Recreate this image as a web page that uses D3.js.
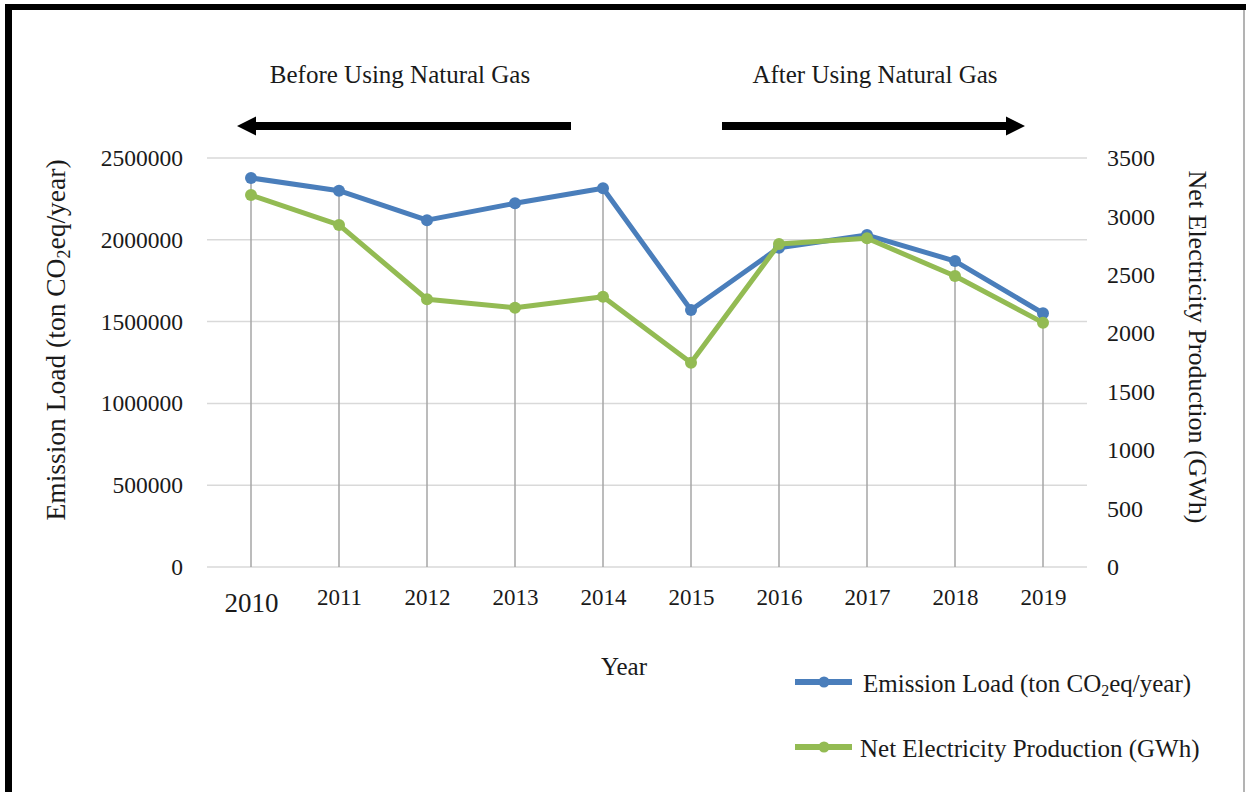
<!DOCTYPE html>
<html>
<head>
<meta charset="utf-8">
<script src="https://cdn.jsdelivr.net/npm/d3@7"></script>
<style>
  html, body { margin: 0; padding: 0; background: #fff; }
  svg { display: block; }
  text { font-family: "Liberation Serif", "Times New Roman", serif; fill: #1a1a1a; }
</style>
</head>
<body>
<svg id="chart" width="1246" height="792"></svg>
<script>
// ---- data ----
const years = ["2010","2011","2012","2013","2014","2015","2016","2017","2018","2019"];
const emissionLoad = [2378000, 2300000, 2120000, 2223000, 2315000, 1571000, 1952000, 2029000, 1870000, 1551000];
const netElectricity = [3183, 2927, 2291, 2219, 2313, 1748, 2764, 2813, 2490, 2091];
const leftTicks = [0, 500000, 1000000, 1500000, 2000000, 2500000];
const rightTicks = [0, 500, 1000, 1500, 2000, 2500, 3000, 3500];

const BLUE = "#4a7ebb";
const GREEN = "#93bb53";

const svg = d3.select("#chart");

// frame
svg.append("rect").attr("x", 5).attr("y", 4).attr("width", 7).attr("height", 788).attr("fill", "#000");
svg.append("rect").attr("x", 5).attr("y", 4).attr("width", 1241).attr("height", 6).attr("fill", "#000");
svg.append("line").attr("x1", 1244).attr("x2", 1244).attr("y1", 10).attr("y2", 792)
  .attr("stroke", "#9a9a9a").attr("stroke-width", 1.5);

const plot = { left: 207, right: 1087, top: 158, bottom: 567 };

const x = d3.scalePoint().domain(years).range([plot.left, plot.right]).padding(0.5);
const yL = d3.scaleLinear().domain([0, 2500000]).range([plot.bottom, plot.top]);
const yR = d3.scaleLinear().domain([0, 3500]).range([plot.bottom, plot.top]);

// gridlines
svg.append("g").selectAll("line").data(leftTicks).join("line")
  .attr("x1", plot.left).attr("x2", plot.right)
  .attr("y1", d => yL(d)).attr("y2", d => yL(d))
  .attr("stroke", "#d9d9d9").attr("stroke-width", 1.5);

// drop lines
svg.append("g").selectAll("line").data(years).join("line")
  .attr("x1", d => x(d)).attr("x2", d => x(d))
  .attr("y1", (d, i) => Math.min(yL(emissionLoad[i]), yR(netElectricity[i])))
  .attr("y2", plot.bottom)
  .attr("stroke", "#a6a6a6").attr("stroke-width", 1.5);

// left axis
const axL = d3.axisLeft(yL).tickValues(leftTicks).tickSize(0).tickPadding(0).tickFormat(d3.format("d"));
const gL = svg.append("g").attr("transform", `translate(183,0)`).call(axL);
gL.select(".domain").remove();
gL.selectAll("text").attr("font-size", 23.5).attr("font-family", "Liberation Serif").attr("fill", "#222").attr("dy", "0.32em");

// right axis
const axR = d3.axisRight(yR).tickValues(rightTicks).tickSize(0).tickPadding(0).tickFormat(d3.format("d"));
const gR = svg.append("g").attr("transform", `translate(1107,0)`).call(axR);
gR.select(".domain").remove();
gR.selectAll("text").attr("font-size", 24).attr("font-family", "Liberation Serif").attr("fill", "#222").attr("dy", "0.32em");

// bottom axis
const axB = d3.axisBottom(x).tickSize(0).tickPadding(0);
const gB = svg.append("g").attr("transform", `translate(0,590)`).call(axB);
gB.select(".domain").remove();
gB.selectAll("text").attr("font-family", "Liberation Serif").attr("fill", "#222")
  .attr("dy", "0.71em")
  .attr("transform", d => d === "2010" ? "translate(0,3)" : "translate(0,-1)")
  .attr("font-size", d => d === "2010" ? 27 : 23);

// series
const lineL = d3.line().x((d, i) => x(years[i])).y(d => yL(d));
const lineR = d3.line().x((d, i) => x(years[i])).y(d => yR(d));

svg.append("path").datum(emissionLoad).attr("d", lineL)
  .attr("fill", "none").attr("stroke", BLUE).attr("stroke-width", 5).attr("stroke-linejoin", "round");
svg.append("g").selectAll("circle").data(emissionLoad).join("circle")
  .attr("cx", (d, i) => x(years[i])).attr("cy", d => yL(d)).attr("r", 6).attr("fill", BLUE);

svg.append("path").datum(netElectricity).attr("d", lineR)
  .attr("fill", "none").attr("stroke", GREEN).attr("stroke-width", 5).attr("stroke-linejoin", "round");
svg.append("g").selectAll("circle").data(netElectricity).join("circle")
  .attr("cx", (d, i) => x(years[i])).attr("cy", d => yR(d)).attr("r", 6).attr("fill", GREEN);

// axis titles
const tL = svg.append("text").attr("transform", "translate(65,340) rotate(-90)")
  .attr("text-anchor", "middle").attr("font-size", 27.5);
tL.append("tspan").text("Emission Load (ton CO");
tL.append("tspan").text("2").attr("font-size", 18).attr("dy", 5);
tL.append("tspan").text("eq/year)").attr("dy", -5);

svg.append("text").attr("transform", "translate(1189,347) rotate(90)")
  .attr("text-anchor", "middle").attr("font-size", 26)
  .text("Net Electricity Production (GWh)");

svg.append("text").attr("x", 624).attr("y", 675).attr("text-anchor", "middle")
  .attr("font-size", 25).text("Year");

// top annotations
svg.append("text").attr("x", 400).attr("y", 83).attr("text-anchor", "middle")
  .attr("font-size", 25).text("Before Using Natural Gas");
svg.append("text").attr("x", 875).attr("y", 83).attr("text-anchor", "middle")
  .attr("font-size", 25).text("After Using Natural Gas");

// arrows
function arrow(x1, x2, y) {
  const dir = Math.sign(x2 - x1);
  const headLen = 19, headHalf = 9.5, shaft = 4;
  const xb = x2 - dir * headLen;
  const p = d3.path();
  p.moveTo(x1, y - shaft);
  p.lineTo(xb, y - shaft);
  p.lineTo(xb, y - headHalf);
  p.lineTo(x2, y);
  p.lineTo(xb, y + headHalf);
  p.lineTo(xb, y + shaft);
  p.lineTo(x1, y + shaft);
  p.closePath();
  svg.append("path").attr("d", p.toString()).attr("fill", "#000");
}
arrow(571, 237, 126);
arrow(722, 1025, 126);

// legend
const legend = [
  { label: "Emission Load (ton CO", sub: "2", tail: "eq/year)", color: BLUE, y: 682, tx: 863 },
  { label: "Net Electricity Production (GWh)", color: GREEN, y: 747, tx: 860 }
];
legend.forEach(l => {
  svg.append("line").attr("x1", 795).attr("x2", 852).attr("y1", l.y).attr("y2", l.y)
    .attr("stroke", l.color).attr("stroke-width", 6);
  svg.append("circle").attr("cx", 824).attr("cy", l.y).attr("r", 5.5).attr("fill", l.color);
  const t = svg.append("text").attr("x", l.tx).attr("y", l.y + 10).attr("font-size", 25);
  t.append("tspan").text(l.label);
  if (l.sub) {
    t.append("tspan").text(l.sub).attr("font-size", 16).attr("dy", 4);
    t.append("tspan").text(l.tail).attr("dy", -4);
  }
});
</script>
</body>
</html>
